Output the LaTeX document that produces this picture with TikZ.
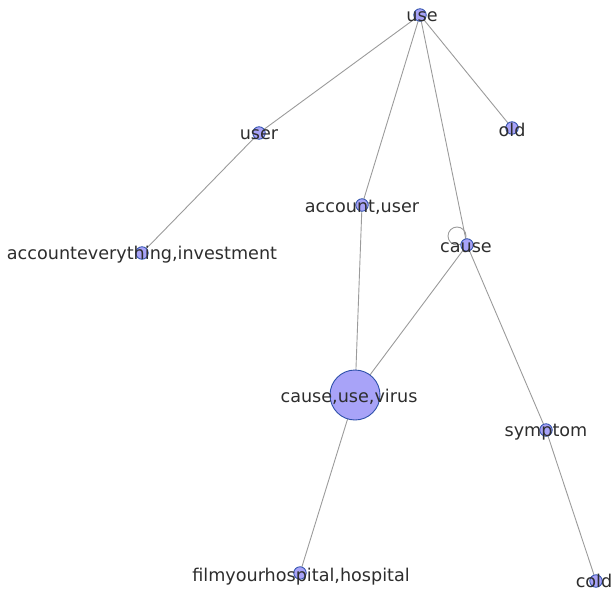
\documentclass[tikz,border=0pt]{standalone}
\usepackage{fontspec}
\setmainfont{DejaVu Sans}
\definecolor{nodefill}{RGB}{168,163,248}
\definecolor{nodedraw}{RGB}{45,80,170}
\definecolor{edgecol}{RGB}{155,155,155}
\definecolor{txtcol}{RGB}{45,45,45}
\tikzset{
  dot/.style={circle,fill=nodefill,draw=nodedraw,line width=0.8pt,inner sep=0pt,minimum size=12.5pt},
  bigdot/.style={circle,fill=nodefill,draw=nodedraw,line width=0.9pt,inner sep=0pt,minimum size=50pt},
  lbl/.style={text=txtcol,font=\fontsize{17.6}{20}\selectfont,inner sep=0pt},
  edge/.style={draw=edgecol,line width=0.9pt}
}
\begin{document}
\begin{tikzpicture}[x=1pt,y=-1pt]
\useasboundingbox (0,0) rectangle (615,591);
% node centres
\coordinate (use) at (420,15);
\coordinate (user) at (259,133);
\coordinate (old) at (512,128);
\coordinate (acc) at (362,205);
\coordinate (cause) at (467,245);
\coordinate (inv) at (142,253);
\coordinate (cuv) at (355,395);
\coordinate (sym) at (546,430);
\coordinate (film) at (300,573);
\coordinate (cold) at (596,581);
\coordinate (loopc) at (457,236);
% edges
\draw[edge] (use) -- (user);
\draw[edge] (use) -- (acc);
\draw[edge] (use) -- (cause);
\draw[edge] (use) -- (old);
\draw[edge] (user) -- (inv);
\draw[edge] (acc) -- (cuv);
\draw[edge] (cause) -- (cuv);
\draw[edge] (cause) -- (sym);
\draw[edge] (cuv) -- (film);
\draw[edge] (sym) -- (cold);
\draw[edge] (loopc) circle[radius=9];
% node circles
\node[dot] (nuse) at (use) {};
\node[dot] (nuser) at (user) {};
\node[dot] (nold) at (old) {};
\node[dot] (nacc) at (acc) {};
\node[dot] (ncause) at (cause) {};
\node[dot] (ninv) at (inv) {};
\node[bigdot] (ncuv) at (cuv) {};
\node[dot] (nsym) at (sym) {};
\node[dot] (nfilm) at (film) {};
\node[dot] (ncold) at (cold) {};
% labels
\node[lbl] (luse) at (422,17) {use};
\node[lbl] (luser) at (259,135) {user};
\node[lbl] (lold) at (512,130) {old};
\node[lbl] (lacc) at (362,207) {account,user};
\node[lbl] (lcause) at (466,248) {cause};
\node[lbl] (linv) at (142,255) {accounteverything,investment};
\node[lbl] (lcuv) at (349,397) {cause,use,virus};
\node[lbl] (lsym) at (546,432) {symptom};
\node[lbl] (lfilm) at (301,577) {filmyourhospital,hospital};
\node[lbl,anchor=base] (lcold) at (594,587) {cold};
\end{tikzpicture}
\end{document}
